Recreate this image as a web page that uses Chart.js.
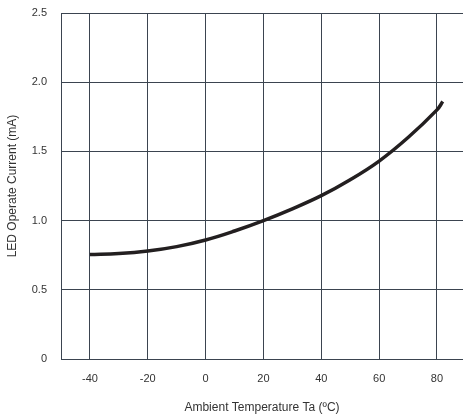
<!DOCTYPE html>
<html>
<head>
<meta charset="utf-8">
<script src="https://cdn.jsdelivr.net/npm/chart.js@4/dist/chart.umd.min.js"></script>
<style>
html,body{margin:0;padding:0;background:#fff;overflow:hidden;}
#wrap{position:relative;width:463px;height:415px;}
</style>
</head>
<body>
<div id="wrap"><canvas id="c" width="463" height="415"></canvas></div>
<script>
// Ambient temperature (ºC)
const temperatures = [-40, -30, -20, -10, 0, 10, 20, 30, 40, 50, 60, 70, 80, 82];
// LED operate current (mA)
const currents = [0.755, 0.762, 0.78, 0.812, 0.86, 0.925, 1.0, 1.085, 1.18, 1.295, 1.43, 1.60, 1.80, 1.86];
const xTicks = [-40, -20, 0, 20, 40, 60, 80];
const yTicks = [0, 0.5, 1.0, 1.5, 2.0, 2.5];
const yTickLabels = ['0', '0.5', '1.0', '1.5', '2.0', '2.5'];

const points = temperatures.map((t, i) => ({x: t, y: currents[i]}));
const gridColor = '#3b4450';
const textColor = '#333333';
const fontFamily = '"Liberation Sans", Arial, sans-serif';

new Chart(document.getElementById('c'), {
  type: 'line',
  data: {
    datasets: [{
      data: points,
      borderColor: '#231f20',
      borderWidth: 3.5,
      pointRadius: 0,
      fill: false,
      tension: 0.4,
      borderCapStyle: 'butt'
    }]
  },
  options: {
    responsive: false,
    animation: false,
    devicePixelRatio: 1,
    layout: {padding: {left: 0, right: 0, top: 13, bottom: 0}},
    plugins: {legend: {display: false}, tooltip: {enabled: false}},
    scales: {
      x: {
        type: 'linear',
        min: -50,
        max: 89,
        afterBuildTicks: (axis) => { axis.ticks = xTicks.map(v => ({value: v})); },
        afterFit: (axis) => { axis.height = 56; axis.paddingLeft = 0; axis.paddingRight = 0; },
        grid: {color: gridColor, lineWidth: 1, drawTicks: false},
        border: {display: true, color: gridColor, width: 1},
        ticks: {
          color: textColor,
          font: {family: fontFamily, size: 11},
          padding: 13,
          maxRotation: 0,
          callback: (v) => String(v)
        },
        title: {
          display: true,
          text: 'Ambient Temperature Ta (ºC)',
          color: textColor,
          font: {family: fontFamily, size: 12},
          padding: {top: 4, bottom: 0}
        }
      },
      y: {
        type: 'linear',
        min: 0,
        max: 2.5,
        afterBuildTicks: (axis) => { axis.ticks = yTicks.map(v => ({value: v})); },
        afterFit: (axis) => { axis.width = 61; axis.paddingTop = 0; axis.paddingBottom = 0; },
        grid: {color: gridColor, lineWidth: 1, drawTicks: false},
        border: {display: true, color: gridColor, width: 1},
        ticks: {
          color: textColor,
          font: {family: fontFamily, size: 11},
          padding: 14,
          callback: (v) => { const i = yTicks.indexOf(v); return i >= 0 ? yTickLabels[i] : ''; }
        },
        title: {
          display: true,
          text: 'LED Operate Current (mA)',
          color: textColor,
          font: {family: fontFamily, size: 12},
          padding: {top: 5, bottom: 4}
        }
      }
    }
  }
});
</script>
</body>
</html>
